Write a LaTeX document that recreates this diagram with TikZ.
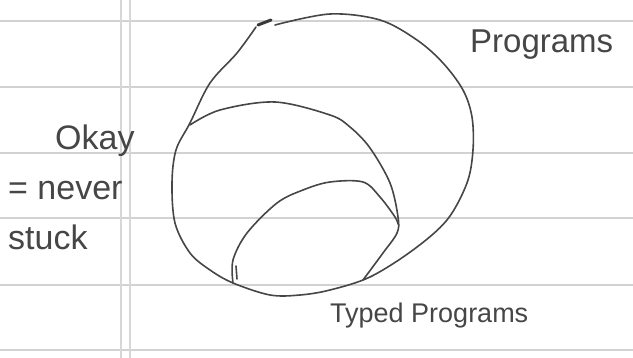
\documentclass[tikz,border=0pt]{standalone}
\usepackage{fontspec}
\setmainfont{Liberation Sans}
\usepackage{tikz}
\usetikzlibrary{positioning}
\definecolor{pencil}{RGB}{70, 70, 70}
\definecolor{ruleline}{RGB}{210, 210, 210}
\definecolor{marginline}{RGB}{215, 215, 215}
\tikzset{
  sketch/.style={draw=pencil, line width=1.6pt, line cap=round, line join=round},
  hand/.style={text=pencil, inner sep=0pt, font=\fontsize{34}{50}\selectfont}
}

\begin{document}
\begin{tikzpicture}[x=1pt, y=-1pt]

  \useasboundingbox (0,0) rectangle (633,358);

  % --- lined paper ---
  \foreach \yy in {21, 87, 153, 218, 285, 350}
    \draw[ruleline, line width=2.2pt] (0,\yy) -- (633,\yy);
  \draw[marginline, line width=2pt] (121,0) -- (121,358);
  \draw[marginline, line width=2pt] (130,0) -- (130,358);

  % --- all programs (outer loop) ---
  \draw[sketch] plot[smooth, tension=0.55] coordinates {
    (275,25) (330,14) (380,20) (417,40) (443,63) (463,90) (472,117)
    (473,150) (467,183) (447,220) (413,250) (370,277) (330,290)
    (300,295) (270,295) (233,283) (210,270) (190,253) (175,223)
    (172,183) (176,150) (190,123) (210,83) (237,53) (256,27)};
  \draw[pencil!80!black, line width=3pt, line cap=round] (258,25) -- (271,20);

  % --- okay programs (middle arc) ---
  \draw[sketch] plot[smooth, tension=0.55] coordinates {
    (190,125) (220,110) (275,102) (330,115) (350,127) (370,148)
    (390,183) (398,217) (397,233) (383,253) (363,280)};

  % --- typed programs (inner arc) ---
  \draw[sketch] plot[smooth, tension=0.55] coordinates {
    (233,283) (233,260) (247,233) (277,203) (303,190) (330,182)
    (363,182) (380,197) (395,217) (398,224)};
  \draw[sketch] (236,266) -- (237,279);

  % --- labels ---
  \node[hand, anchor=base west, font=\fontsize{33}{40}\selectfont]
    (programs) at (470,53) {Programs};
  \node[hand, anchor=base west, align=left] (okay) at (8,250)
    {\hspace*{47pt}Okay\\= never\\stuck};
  \node[hand, anchor=base west, font=\fontsize{27}{30}\selectfont]
    (typed) at (330,323) {Typed Programs};

\end{tikzpicture}
\end{document}
